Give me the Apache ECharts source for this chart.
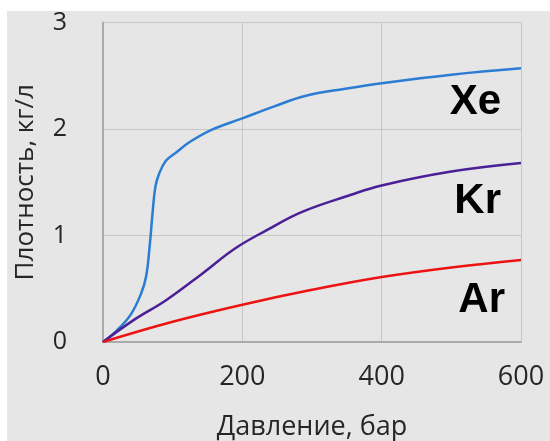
<!DOCTYPE html>
<html>
<head>
<meta charset="utf-8">
<script src="https://cdn.jsdelivr.net/npm/echarts@6/dist/echarts.min.js"></script>
<style>
html,body{margin:0;padding:0;background:#ffffff;}
#chart{position:absolute;left:7px;top:11px;width:543px;height:430px;background:#e6e6e6;}
</style>
</head>
<body>
<div id="chart"></div>
<script>
// Pressure (bar) and density (kg/L) readings
var xePressure = [0, 20, 40, 55, 62, 67, 71, 75, 80, 90, 105, 125, 155, 200, 245, 290, 350, 400, 500, 600];
var xeDensity  = [0, 0.11, 0.26, 0.46, 0.62, 0.90, 1.20, 1.45, 1.57, 1.70, 1.78, 1.88, 1.99, 2.10, 2.21, 2.31, 2.38, 2.43, 2.51, 2.57];
var krPressure = [0, 45, 90, 140, 190, 235, 285, 355, 400, 500, 600];
var krDensity  = [0, 0.21, 0.39, 0.63, 0.88, 1.05, 1.22, 1.38, 1.47, 1.60, 1.68];
var arPressure = [0, 100, 200, 300, 400, 500, 600];
var arDensity  = [0, 0.19, 0.35, 0.49, 0.61, 0.70, 0.77];
var gasNames = ['Xe', 'Kr', 'Ar'];
var xTicks = [0, 200, 400, 600];
var yTicks = [0, 1, 2, 3];
var xAxisTitle = 'Давление, бар';
var yAxisTitle = 'Плотность, кг/л';

function pairs(xs, ys){ return xs.map(function(x,i){ return [x, ys[i]]; }); }

var chart = echarts.init(document.getElementById('chart'));
var font = '"Open Sans", "Noto Sans", sans-serif';
var option = {
  animation: false,
  grid: {left: 96, right: 29, top: 11.5, bottom: 99, containLabel: false, outerBoundsMode: 'none'},
  xAxis: {
    type: 'value', min: xTicks[0], max: xTicks[xTicks.length-1], interval: 200,
    name: xAxisTitle, nameLocation: 'middle', nameGap: 72,
    nameTextStyle: {fontFamily: font, fontSize: 27, color: '#262626'},
    axisLine: {show: true, lineStyle: {color: '#ababab', width: 2}},
    axisTick: {show: false},
    splitLine: {show: true, lineStyle: {color: '#c6c6c6', width: 1}},
    axisLabel: {fontFamily: font, fontSize: 27, color: '#262626', margin: 22}
  },
  yAxis: {
    type: 'value', min: yTicks[0], max: yTicks[yTicks.length-1], interval: 1,
    name: yAxisTitle, nameLocation: 'middle', nameGap: 64, nameRotate: 90,
    nameTextStyle: {fontFamily: font, fontSize: 26, color: '#262626'},
    axisLine: {show: true, lineStyle: {color: '#ababab', width: 2}},
    axisTick: {show: false},
    splitLine: {show: true, lineStyle: {color: '#c6c6c6', width: 1}},
    axisLabel: {fontFamily: font, fontSize: 25, color: '#262626', margin: 36}
  },
  series: [
    {name: gasNames[0], type: 'line', data: pairs(xePressure, xeDensity), smooth: 0.4, showSymbol: false,
     lineStyle: {color: '#2b7cd3', width: 2.5}, z: 3},
    {name: gasNames[1], type: 'line', data: pairs(krPressure, krDensity), smooth: 0.4, showSymbol: false,
     lineStyle: {color: '#4a1f97', width: 2.5}, z: 3},
    {name: gasNames[2], type: 'line', data: pairs(arPressure, arDensity), smooth: 0.4, showSymbol: false,
     lineStyle: {color: '#ee1313', width: 2.5}, z: 3}
  ],
  graphic: [
    {type: 'text', right: 49, top: 70, style: {text: gasNames[0], font: 'bold 42px "Liberation Sans", Arial, sans-serif', fill: '#000'}},
    {type: 'text', right: 49, top: 169, style: {text: gasNames[1], font: 'bold 42px "Liberation Sans", Arial, sans-serif', fill: '#000'}},
    {type: 'text', right: 45, top: 268, style: {text: gasNames[2], font: 'bold 42px "Liberation Sans", Arial, sans-serif', fill: '#000'}}
  ]
};
chart.setOption(option);
</script>
</body>
</html>
